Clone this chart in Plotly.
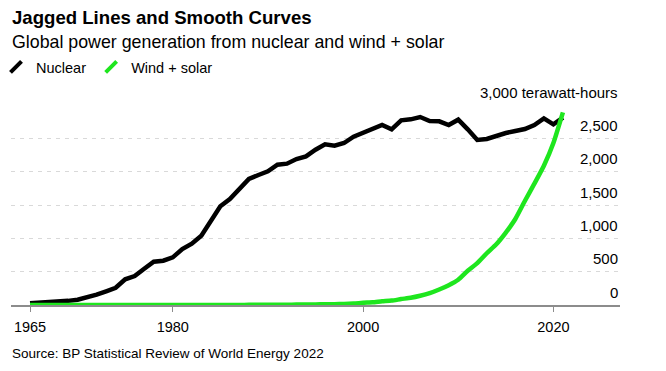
import plotly.graph_objects as go

years = list(range(1965, 2022))

nuclear = [28, 35, 42, 52, 62, 80, 112, 155, 205, 258,
           385, 435, 545, 650, 665, 715, 840, 920, 1040, 1270,
           1480, 1590, 1740, 1890, 1950, 2005, 2105, 2120, 2190, 2230,
           2330, 2410, 2390, 2430, 2525, 2580, 2650, 2700, 2635, 2770,
           2785, 2820, 2760, 2755, 2700, 2780, 2635, 2475, 2490, 2540,
           2580, 2610, 2640, 2700, 2800, 2710, 2810]

wind_solar = [0, 0, 0, 0, 0, 0, 0, 0, 0, 0,
              0, 0, 0, 0, 0, 0, 0, 0, 0.5, 0.5,
              1, 1, 1.5, 2, 3, 4, 4.5, 5, 6, 7,
              9, 10, 13, 16, 22, 33, 40, 55, 66, 89,
              109, 139, 178, 233, 297, 378, 513, 627, 776, 911,
              1086, 1290, 1560, 1820, 2090, 2430, 2890]

y_ticks = [0, 500, 1000, 1500, 2000, 2500, 3000]
y_ticktext = ["0", "500", "1,000", "1,500", "2,000", "2,500", "3,000 terawatt-hours"]
x_ticks = [1965, 1980, 2000, 2020]
x_ticktext = ["1965", "1980", "2000", "2020"]

BLACK = "#000000"
GREEN = "#1ee61e"
FONT = "Liberation Sans"

# the page body adds an 8px offset; work in figure coordinates
OFF = 8
W, H = 666 - OFF, 371 - OFF
ML, MT = 11 - OFF, 105 - OFF
MR = W - (620 - OFF)
MB = H - (305 - OFF)
PW = W - ML - MR
PH = H - MT - MB


def px_x(px):
    return (px - OFF - ML) / PW


def px_y(py):
    return (H - MB - (py - OFF)) / PH


fig = go.Figure()

fig.add_trace(go.Scatter(x=years, y=nuclear, mode="lines", name="Nuclear",
                         line=dict(color=BLACK, width=4.5), showlegend=False,
                         cliponaxis=False))
fig.add_trace(go.Scatter(x=years, y=wind_solar, mode="lines", name="Wind + solar",
                         line=dict(color=GREEN, width=4.5, shape="spline", smoothing=0.5),
                         showlegend=False, cliponaxis=False))

# legend-only entries with slanted stroke symbols
for name, col in [("Nuclear", BLACK), ("Wind + solar", GREEN)]:
    fig.add_trace(go.Scatter(x=[None], y=[None], mode="markers", name=name,
                             marker=dict(symbol="line-ne", size=11, color=col,
                                         line=dict(color=col, width=4))))

fig.update_layout(
    width=W, height=H,
    margin=dict(l=ML, r=MR, t=MT, b=MB, pad=0, autoexpand=False),
    paper_bgcolor="white", plot_bgcolor="white",
    font=dict(family=FONT, color="#000000", size=14),
    showlegend=True,
    legend=dict(orientation="h", xref="paper", yref="paper",
                x=px_x(-4), xanchor="left",
                y=px_y(67), yanchor="middle",
                font=dict(size=14.5, family=FONT), itemwidth=30, bgcolor="rgba(0,0,0,0)",
                traceorder="normal"),
    xaxis=dict(range=[1963, 2027], tickvals=x_ticks, ticktext=x_ticktext,
               showgrid=False, zeroline=False, showline=True, linecolor="#8c8c8c", linewidth=2,
               ticks="outside", ticklen=5, tickwidth=1, tickcolor="#8c8c8c",
               ticklabelstandoff=3,
               tickfont=dict(size=14.5, family=FONT, color="#000000")),
    yaxis=dict(range=[0, 3000], tickvals=y_ticks, showticklabels=False, ticks="",
               showgrid=True, gridcolor="#d9d9d9", gridwidth=1, griddash="4px,5px",
               zeroline=False, showline=False),
)

# y tick labels sitting above their gridlines, right-aligned at the plot edge
for v, t in zip(y_ticks, y_ticktext):
    fig.add_annotation(text=t, xref="paper", yref="y", x=1, y=v, xanchor="right",
                       yanchor="middle", yshift=13, showarrow=False,
                       font=dict(size=15, family=FONT, color="#000000"))

fig.add_annotation(text="<b>Jagged Lines and Smooth Curves</b>", xref="paper", yref="paper",
                   x=px_x(10), y=px_y(17), xanchor="left", yanchor="middle", showarrow=False,
                   font=dict(size=18.6, family=FONT, color="#000000"))
fig.add_annotation(text="Global power generation from nuclear and wind + solar", xref="paper", yref="paper",
                   x=px_x(10), y=px_y(42), xanchor="left", yanchor="middle", showarrow=False,
                   font=dict(size=17.8, family=FONT, color="#000000"))
fig.add_annotation(text="Source: BP Statistical Review of World Energy 2022", xref="paper", yref="paper",
                   x=px_x(10), y=px_y(353), xanchor="left", yanchor="middle", showarrow=False,
                   font=dict(size=13.5, family=FONT, color="#000000"))

fig.write_html("out.html")
